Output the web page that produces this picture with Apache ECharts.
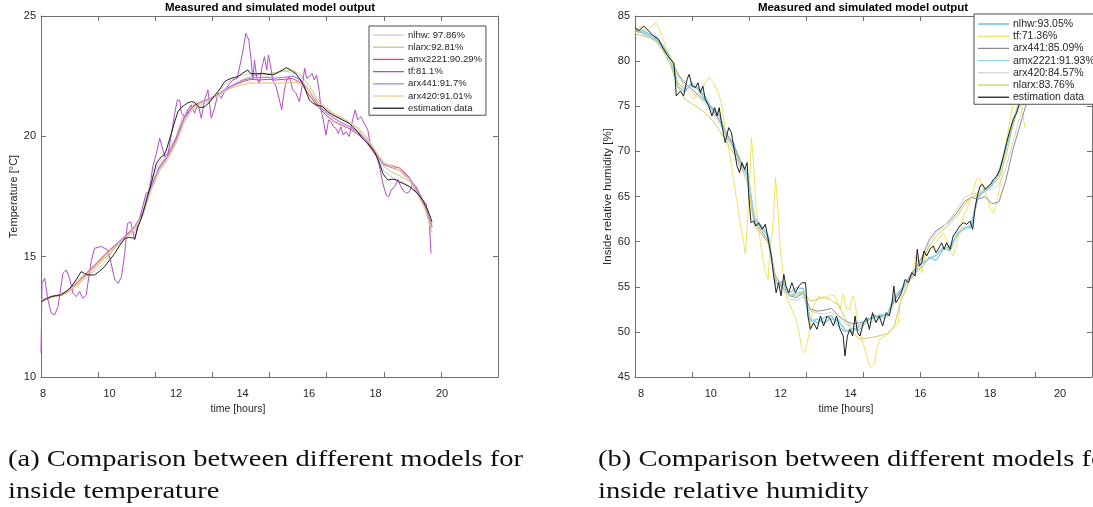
<!DOCTYPE html>
<html><head><meta charset="utf-8">
<script src="https://cdn.jsdelivr.net/npm/echarts@6/dist/echarts.min.js"></script>
<style>html,body{margin:0;padding:0;background:#fff}#c{width:1093px;height:507px}</style>
</head><body><div id="c"></div>
<script>
// ---------- shared tick labels ----------
const hourLabels = [8, 10, 12, 14, 16, 18, 20];
const tempTicks = [10, 15, 20, 25];
const humTicks = [45, 50, 55, 60, 65, 70, 75, 80, 85];

// ---------- (a) inside temperature ----------
const tempHours = [7.95, 8.25, 8.5, 8.75, 9, 9.25, 9.5, 9.75, 10, 10.25, 10.5, 10.75, 11, 11.25, 11.5, 11.75, 12, 12.25, 12.5, 12.75, 13, 13.25, 13.5, 13.75, 14, 14.25, 14.5, 14.75, 15, 15.25, 15.5, 15.75, 16, 16.25, 16.5, 16.75, 17, 17.25, 17.5, 17.75, 18, 18.25, 18.5, 18.75, 19, 19.25, 19.5, 19.7];
const tempNlhw = [13.15, 13.3, 13.4, 13.6, 14.0, 14.25, 14.35, 14.6, 15.05, 15.55, 15.8, 16.0, 16.9, 18.2, 18.9, 19.35, 20.0, 21.0, 21.35, 21.3, 21.45, 21.8, 22.2, 22.4, 22.55, 22.6, 22.58, 22.58, 22.62, 22.72, 22.65, 22.3, 21.7, 21.3, 21.05, 20.85, 20.68, 20.5, 20.2, 19.8, 19.3, 18.55, 18.3, 18.15, 17.95, 17.6, 17.0, 16.35];
const tempNlarx = [13.15, 13.3, 13.38, 13.5, 13.75, 14.08, 14.42, 14.78, 15.12, 15.45, 15.78, 16.15, 16.75, 17.85, 18.65, 19.12, 19.8, 20.7, 21.2, 21.42, 21.55, 21.75, 21.98, 22.18, 22.35, 22.5, 22.55, 22.6, 22.65, 22.72, 22.75, 22.55, 22.1, 21.55, 21.2, 20.95, 20.75, 20.55, 20.3, 19.9, 19.35, 18.75, 18.5, 18.35, 18.15, 17.75, 17.1, 16.3];
const tempAmx2221 = [13.2, 13.35, 13.42, 13.6, 13.89, 14.24, 14.58, 14.93, 15.28, 15.58, 15.9, 16.25, 16.8, 17.91, 18.74, 19.22, 19.92, 20.82, 21.26, 21.44, 21.54, 21.72, 21.95, 22.13, 22.27, 22.37, 22.34, 22.37, 22.34, 22.37, 22.4, 22.23, 21.72, 21.26, 20.9, 20.62, 20.45, 20.3, 20.05, 19.71, 19.22, 18.85, 18.78, 18.67, 18.32, 17.77, 17.01, 16.25];
const tempArx441 = [13.2, 13.33, 13.4, 13.58, 13.86, 14.2, 14.55, 14.9, 15.25, 15.55, 15.86, 16.22, 16.78, 17.88, 18.7, 19.18, 19.85, 20.75, 21.22, 21.42, 21.52, 21.72, 21.95, 22.15, 22.32, 22.42, 22.45, 22.45, 22.42, 22.45, 22.5, 22.35, 21.9, 21.35, 21.0, 20.75, 20.55, 20.38, 20.15, 19.8, 19.28, 18.82, 18.7, 18.58, 18.3, 17.75, 17.0, 16.2];
const tempArx420 = [13.2, 13.32, 13.4, 13.55, 13.82, 14.15, 14.5, 14.85, 15.2, 15.5, 15.82, 16.18, 16.7, 17.75, 18.55, 19.05, 19.7, 20.6, 21.15, 21.38, 21.5, 21.68, 21.9, 22.05, 22.15, 22.22, 22.2, 22.22, 22.2, 22.22, 22.25, 22.2, 21.9, 21.45, 21.15, 20.92, 20.75, 20.55, 20.3, 19.92, 19.4, 18.9, 18.75, 18.55, 18.2, 17.65, 16.95, 16.0];
const tempTf = [[7.94,11.0],[7.97,13.9],[8.05,14.1],[8.15,13.2],[8.25,12.65],[8.35,12.58],[8.45,12.92],[8.6,14.31],[8.7,14.45],[8.8,14.1],[8.9,13.48],[9.0,13.34],[9.1,13.55],[9.2,13.27],[9.3,13.4],[9.35,13.89],[9.45,14.8],[9.55,15.35],[9.75,15.42],[9.95,15.28],[10.05,14.72],[10.16,14.03],[10.26,13.89],[10.36,14.17],[10.46,15.14],[10.54,16.38],[10.64,16.45],[10.76,15.69],[10.86,16.38],[11.0,17.08],[11.1,17.63],[11.2,17.7],[11.3,18.74],[11.41,19.29],[11.51,19.92],[11.58,19.57],[11.66,19.16],[11.76,19.29],[11.86,20.06],[11.96,20.96],[12.04,21.51],[12.11,21.51],[12.16,20.96],[12.26,20.82],[12.36,21.1],[12.46,21.3],[12.56,20.96],[12.66,21.37],[12.76,20.75],[12.86,21.51],[12.96,21.93],[13.06,20.75],[13.16,21.16],[13.26,21.79],[13.36,21.58],[13.46,21.86],[13.61,22.2],[13.71,22.34],[13.84,22.41],[13.9,22.48],[14.0,23.45],[14.1,24.28],[14.19,24.0],[14.26,23.17],[14.31,22.34],[14.36,23.17],[14.43,22.41],[14.51,22.2],[14.59,22.9],[14.66,23.31],[14.73,22.76],[14.78,23.38],[14.84,22.96],[14.91,22.34],[15.01,22.06],[15.11,21.51],[15.18,21.1],[15.26,21.93],[15.33,22.34],[15.41,22.48],[15.51,21.93],[15.61,21.79],[15.71,21.44],[15.79,22.06],[15.87,22.83],[15.93,22.41],[16.01,22.48],[16.09,22.62],[16.16,22.34],[16.23,22.55],[16.31,21.86],[16.36,21.1],[16.43,20.68],[16.51,20.06],[16.59,20.68],[16.66,20.61],[16.74,20.4],[16.81,20.33],[16.88,20.12],[16.96,20.4],[17.03,20.06],[17.11,20.19],[17.21,19.99],[17.31,20.68],[17.39,21.1],[17.46,20.68],[17.56,20.82],[17.66,20.54],[17.77,20.26],[17.84,19.71],[17.92,19.5],[18.02,19.29],[18.12,18.74],[18.22,18.05],[18.32,17.56],[18.4,17.49],[18.47,17.77],[18.57,17.91],[18.67,18.19],[18.74,17.98],[18.82,17.77],[18.92,17.63],[19.02,17.7],[19.12,18.05],[19.22,17.91],[19.32,17.63],[19.42,17.35],[19.52,17.22],[19.62,16.38],[19.67,15.14]];
const tempMeasured = [[7.95,13.13],[8.1,13.25],[8.25,13.34],[8.4,13.38],[8.55,13.41],[8.7,13.55],[8.85,13.75],[9.0,14.05],[9.15,14.38],[9.25,14.3],[9.35,14.24],[9.55,14.24],[9.7,14.4],[9.85,14.58],[10.0,14.85],[10.16,15.14],[10.3,15.45],[10.46,15.76],[10.6,15.8],[10.76,15.76],[10.86,16.25],[10.96,16.6],[11.06,17.08],[11.16,17.6],[11.26,18.05],[11.34,18.5],[11.41,18.88],[11.5,19.05],[11.56,19.16],[11.63,19.2],[11.71,19.43],[11.8,19.85],[11.86,20.12],[11.96,20.6],[12.06,21.03],[12.16,21.2],[12.26,21.3],[12.36,21.4],[12.46,21.44],[12.55,21.42],[12.61,21.37],[12.7,21.2],[12.76,21.16],[12.85,21.22],[12.91,21.3],[13.0,21.4],[13.06,21.51],[13.16,21.7],[13.26,21.86],[13.36,22.05],[13.46,22.27],[13.56,22.35],[13.66,22.41],[13.76,22.45],[13.86,22.48],[14.0,22.62],[14.16,22.76],[14.25,22.6],[14.31,22.55],[14.45,22.6],[14.61,22.62],[14.75,22.58],[14.91,22.55],[15.0,22.6],[15.11,22.69],[15.2,22.75],[15.31,22.85],[15.4,22.8],[15.51,22.69],[15.61,22.6],[15.71,22.41],[15.8,22.2],[15.86,22.06],[15.94,21.75],[16.01,21.51],[16.1,21.4],[16.21,21.3],[16.31,21.28],[16.41,21.23],[16.56,21.03],[16.7,20.9],[16.81,20.82],[17.01,20.68],[17.21,20.54],[17.41,20.26],[17.61,19.92],[17.81,19.64],[17.97,19.36],[18.05,19.1],[18.12,18.88],[18.22,18.46],[18.3,18.3],[18.37,18.19],[18.5,18.22],[18.62,18.19],[18.72,18.1],[18.82,18.05],[19.02,17.91],[19.22,17.7],[19.42,17.35],[19.57,16.94],[19.7,16.45]];

// ---------- (b) inside relative humidity ----------
const humHours = [7.85, 8.05, 8.25, 8.45, 8.65, 8.85, 9.05, 9.25, 9.45, 9.65, 9.85, 10.05, 10.25, 10.45, 10.65, 10.85, 11.05, 11.25, 11.45, 11.65, 11.85, 12.05, 12.25, 12.45, 12.65, 12.85, 13.05, 13.25, 13.45, 13.65, 13.85, 14.05, 14.25, 14.45, 14.65, 14.85, 15.05, 15.25, 15.45, 15.65, 15.85, 16.05, 16.25, 16.45, 16.65, 16.85, 17.05, 17.25, 17.45, 17.65, 17.85, 18.05, 18.25, 18.45, 18.65, 18.85, 19.05];
const humNlhw = [83.5, 83.4, 83.0, 82.7, 81.6, 80.4, 77.6, 76.9, 77.3, 77.0, 76.0, 74.6, 74.0, 71.8, 71.0, 68.6, 67.8, 62.4, 61.8, 60.4, 55.6, 55.4, 54.3, 54.9, 54.8, 51.4, 51.0, 51.6, 51.8, 50.6, 50.0, 50.4, 50.2, 51.1, 51.9, 51.6, 52.0, 53.5, 54.5, 55.8, 56.5, 57.2, 58.3, 57.9, 59.1, 59.5, 60.6, 61.6, 61.5, 64.8, 65.8, 66.4, 67.5, 70.2, 73.0, 75.5, 78.2];
const humArx441 = [83.3, 83.1, 82.8, 82.3, 81.4, 80.1, 78.6, 77.6, 76.9, 76.2, 75.5, 74.6, 73.4, 72.0, 70.6, 69.0, 67.3, 62.2, 61.2, 60.0, 56.2, 55.0, 54.0, 53.8, 54.3, 52.5, 52.3, 52.4, 52.6, 51.8, 51.2, 50.9, 51.0, 51.2, 51.6, 51.7, 51.9, 53.4, 54.6, 55.9, 57.0, 58.3, 60.2, 61.2, 61.7, 62.3, 63.2, 64.4, 64.9, 64.7, 65.0, 64.2, 64.4, 66.8, 70.2, 72.8, 75.5];
const humAmx2221 = [83.6, 83.2, 82.8, 82.4, 81.2, 80.0, 77.2, 76.6, 77.6, 76.8, 75.6, 74.8, 73.9, 71.6, 70.4, 68.3, 67.4, 62.6, 61.6, 60.6, 55.3, 55.6, 54.0, 54.3, 54.4, 51.2, 51.4, 51.0, 51.5, 51.2, 50.2, 50.0, 50.6, 51.4, 51.5, 51.9, 51.8, 53.9, 54.7, 55.6, 56.8, 57.6, 58.1, 58.5, 59.3, 59.0, 60.9, 61.4, 61.8, 65.0, 65.6, 66.2, 67.7, 70.4, 73.2, 75.8, 78.4];
const humArx420 = [83.4, 83.0, 82.6, 82.2, 81.3, 80.0, 78.4, 77.4, 76.6, 75.9, 75.2, 74.3, 73.1, 71.7, 70.2, 68.6, 67.0, 61.6, 60.8, 59.8, 55.9, 54.7, 53.6, 53.5, 53.9, 52.3, 52.1, 52.0, 52.2, 51.4, 50.9, 50.6, 50.7, 50.9, 51.2, 51.4, 51.6, 53.0, 54.3, 55.6, 56.7, 58.0, 60.0, 61.0, 61.6, 62.5, 63.6, 64.8, 65.3, 65.4, 65.9, 65.8, 66.3, 68.2, 71.0, 73.8, 76.5];
const humNlarx = [83.0, 82.8, 82.6, 82.1, 81.0, 79.5, 77.2, 75.8, 75.3, 74.8, 74.2, 73.4, 72.3, 71.0, 69.8, 68.3, 66.6, 61.8, 60.9, 59.7, 55.8, 54.9, 54.1, 54.0, 54.4, 53.4, 53.6, 53.9, 53.5, 53.0, 51.5, 50.0, 49.2, 49.3, 49.4, 49.6, 49.8, 50.6, 53.6, 55.4, 56.5, 57.8, 59.5, 60.6, 61.3, 62.0, 62.8, 64.0, 64.9, 65.2, 65.8, 66.4, 67.0, 69.4, 72.8, 75.6, 78.0];
const humTf = [[7.84,83.15],[7.98,83.89],[8.17,83.34],[8.31,83.89],[8.43,84.26],[8.55,83.34],[8.7,81.68],[8.89,80.2],[9.08,78.35],[9.22,77.24],[9.37,76.5],[9.51,75.77],[9.65,76.5],[9.79,77.24],[9.94,78.17],[10.08,77.61],[10.21,76.5],[10.3,75.4],[10.4,72.81],[10.51,70.23],[10.61,68.01],[10.72,65.06],[10.84,62.1],[10.94,59.88],[10.99,58.59],[11.06,62.84],[11.13,68.38],[11.16,71.52],[11.21,69.49],[11.29,63.95],[11.42,59.88],[11.56,56.56],[11.64,55.82],[11.7,59.52],[11.75,60.62],[11.8,63.21],[11.85,67.09],[11.91,64.32],[11.99,59.15],[12.09,55.82],[12.18,53.61],[12.32,52.5],[12.47,51.02],[12.61,48.07],[12.69,47.7],[12.8,49.54],[12.94,52.87],[13.09,53.98],[13.28,53.61],[13.41,54.16],[13.55,53.98],[13.7,52.5],[13.79,54.16],[13.89,52.5],[13.98,52.5],[14.06,53.98],[14.13,53.24],[14.22,50.65],[14.32,49.17],[14.41,48.07],[14.51,46.59],[14.58,46.03],[14.67,46.4],[14.75,48.07],[14.84,49.17],[14.99,49.54],[15.13,49.91],[15.27,50.65],[15.37,51.02],[15.42,53.24],[15.51,53.98],[15.61,54.71],[15.7,55.82],[15.8,56.93],[15.87,58.41],[15.95,57.67],[16.04,56.56],[16.13,58.04],[16.23,59.15],[16.37,59.52],[16.51,60.25],[16.66,60.99],[16.75,60.25],[16.85,58.78],[16.94,58.41],[17.04,59.88],[17.15,61.36],[17.23,62.84],[17.33,63.58],[17.42,64.5],[17.52,65.79],[17.61,66.9],[17.69,67.09],[17.78,66.16],[17.9,65.06],[17.99,63.76],[18.09,63.21],[18.19,64.32],[18.28,66.16],[18.38,68.75],[18.47,71.34],[18.57,73.55],[18.66,75.4],[18.72,76.3],[18.8,76.0],[18.88,74.9],[19.0,72.6]];
const humMeasured = [[7.84,83.71],[7.93,83.34],[8.08,83.89],[8.22,83.34],[8.36,82.78],[8.5,82.41],[8.65,81.31],[8.74,80.75],[8.84,80.2],[8.94,79.83],[8.98,78.0],[9.01,76.14],[9.13,76.69],[9.22,76.14],[9.32,77.98],[9.38,78.54],[9.46,77.24],[9.56,77.06],[9.63,77.61],[9.7,76.5],[9.77,77.24],[9.84,75.77],[9.94,75.03],[10.03,73.92],[10.11,74.84],[10.18,73.92],[10.24,74.84],[10.32,72.81],[10.41,70.97],[10.51,72.63],[10.59,72.07],[10.65,70.6],[10.75,68.38],[10.82,67.64],[10.89,68.75],[10.97,68.01],[11.04,68.75],[11.08,65.42],[11.15,62.1],[11.23,62.29],[11.29,61.73],[11.37,62.1],[11.47,61.36],[11.56,61.92],[11.66,59.88],[11.73,58.41],[11.8,56.19],[11.87,54.34],[11.94,55.45],[12.01,53.98],[12.09,56.38],[12.15,55.08],[12.23,54.34],[12.32,55.45],[12.42,54.34],[12.52,55.08],[12.61,55.45],[12.71,55.45],[12.78,51.76],[12.85,50.28],[12.94,51.02],[13.04,50.28],[13.14,51.76],[13.23,50.65],[13.33,51.76],[13.41,51.5],[13.51,50.65],[13.6,51.76],[13.7,50.28],[13.79,49.54],[13.84,47.33],[13.91,49.54],[13.98,50.28],[14.06,49.54],[14.13,51.76],[14.2,49.91],[14.27,49.54],[14.37,51.02],[14.46,51.57],[14.54,50.28],[14.63,52.13],[14.73,51.02],[14.82,51.76],[14.92,50.65],[15.02,52.13],[15.11,51.76],[15.19,53.24],[15.24,55.08],[15.3,53.24],[15.37,53.61],[15.46,54.34],[15.56,55.82],[15.66,55.45],[15.75,56.56],[15.85,56.19],[15.91,59.15],[15.97,57.3],[16.04,57.67],[16.1,58.96],[16.18,58.41],[16.28,59.15],[16.37,59.52],[16.45,58.78],[16.51,59.15],[16.61,59.88],[16.68,59.15],[16.75,59.88],[16.85,59.15],[16.94,60.62],[17.04,61.18],[17.13,61.73],[17.23,62.1],[17.33,61.92],[17.42,62.29],[17.5,61.36],[17.56,63.58],[17.63,65.06],[17.71,66.16],[17.78,66.35],[17.86,65.79],[17.94,66.16],[18.01,66.35],[18.09,66.9],[18.19,67.27],[18.28,68.01],[18.38,69.49],[18.47,70.97],[18.57,72.44],[18.66,73.55],[18.76,74.29],[18.85,75.4],[18.95,77.0],[19.05,78.5]];

// ---------- build ----------
const FONT = 'Liberation Sans, Arial, Helvetica, sans-serif';
const SERIF = '"Liberation Serif", "DejaVu Serif", serif';
const AXC = '#6f6f6f';
const TXT = '#262626';
const pair = (xs, ys) => xs.map((x, i) => [x, ys[i]]);

function line(name, data, color, xi, yi, width) {
  return { name, type: 'line', data, xAxisIndex: xi, yAxisIndex: yi, showSymbol: false, symbol: 'none',
    lineStyle: { color, width: width || 1 }, itemStyle: { color }, emphasis: { disabled: true }, animation: false, clip: true };
}
function dataX(grid, min, max) {
  return { gridIndex: grid, type: 'value', min, max, position: 'bottom',
    axisLine: { show: true, onZero: false, lineStyle: { color: AXC, width: 1 } },
    axisTick: { show: false }, splitLine: { show: false },
    axisLabel: { customValues: hourLabels, color: TXT, fontSize: 11, fontFamily: FONT, margin: 11 } };
}
function tickX(grid, pos) {
  return { gridIndex: grid, type: 'value', min: 0, max: 8, interval: 1, position: pos,
    axisLine: { show: pos === 'top', onZero: false, lineStyle: { color: AXC, width: 1 } },
    axisTick: { show: true, inside: true, length: 5, lineStyle: { color: AXC } },
    axisLabel: { show: false }, splitLine: { show: false } };
}
function yAx(grid, pos, min, max, name, gap, nameSize) {
  return { gridIndex: grid, type: 'value', min, max, interval: 5, position: pos,
    name: pos === 'left' ? name : '', nameLocation: 'middle', nameGap: gap,
    nameTextStyle: { color: TXT, fontSize: nameSize || 11, fontFamily: FONT },
    axisLine: { show: true, onZero: false, lineStyle: { color: AXC, width: 1 } },
    axisTick: { show: true, inside: true, length: 5, lineStyle: { color: AXC } },
    axisLabel: { show: pos === 'left', color: TXT, fontSize: 11, fontFamily: FONT, margin: 5 },
    splitLine: { show: false } };
}
function legend(left, top, names, fs, pad) {
  return { show: true, orient: 'vertical', left, top, data: names, icon: 'rect', itemWidth: 31, itemHeight: 1.3,
    itemGap: 0.15, selectedMode: false, backgroundColor: '#fff', borderColor: '#4d4d4d', borderWidth: 1, borderRadius: 0,
    padding: pad, z: 10,
    textStyle: { color: TXT, fontSize: fs, lineHeight: 12.05, fontFamily: FONT, padding: [0, 0, 0, -1] } };
}

const leftSeries = [
  line('nlhw: 97.86%', pair(tempHours, tempNlhw), '#cdcdcd', 0, 0),
  line('nlarx:92.81%', pair(tempHours, tempNlarx), '#c9c67a', 0, 0),
  line('amx2221:90.29%', pair(tempHours, tempAmx2221), '#e8434f', 0, 0),
  line('tf:81.1%', tempTf, '#b24cc8', 0, 0),
  line('arx441:91.7%', pair(tempHours, tempArx441), '#a68cf2', 0, 0, 1.3),
  line('arx420:91.01%', pair(tempHours, tempArx420), '#f0c892', 0, 0, 1.3),
  line('estimation data', tempMeasured, '#1f1f1f', 0, 0)
];
const rightSeries = [
  line('nlhw:93.05%', pair(humHours, humNlhw), '#5ab5d6', 3, 2),
  line('tf:71.36%', humTf, '#f3e35c', 3, 2),
  line('arx441:85.09%', pair(humHours, humArx441), '#8c8c8c', 3, 2),
  line('amx2221:91.93%', pair(humHours, humAmx2221), '#92d4e3', 3, 2, 1.8),
  line('arx420:84.57%', pair(humHours, humArx420), '#d3d3d3', 3, 2),
  line('nlarx:83.76%', pair(humHours, humNlarx), '#cfcb6c', 3, 2),
  line('estimation data', humMeasured, '#1f1f1f', 3, 2)
];

const titleStyle = { fontSize: 11.5, fontWeight: 'bold', color: '#000', fontFamily: FONT };
const nameStyle = { fontSize: 10.5, fontWeight: 'normal', color: TXT, fontFamily: FONT };

const option = {
  backgroundColor: '#fff',
  animation: false,
  grid: [
    { left: 41, top: 16, width: 457, height: 361, containLabel: false, outerBoundsMode: 'none' },
    { left: 635, top: 16, width: 457, height: 361, containLabel: false, outerBoundsMode: 'none' }
  ],
  xAxis: [
    dataX(0, 7.94, 21.684), tickX(0, 'bottom'), tickX(0, 'top'),
    dataX(1, 7.828, 20.915), tickX(1, 'bottom'), tickX(1, 'top')
  ],
  yAxis: [
    yAx(0, 'left', 10, 25, 'Temperature [°C]', 20, 11), yAx(0, 'right', 10, 25, '', 0),
    yAx(1, 'left', 45, 85, 'Inside relative humidity [%]', 19, 11.5), yAx(1, 'right', 45, 85, '', 0)
  ],
  legend: [
    legend(369, 26, leftSeries.map(s => s.name), 9.5, [3, 4, 1, 4]),
    legend(974, 14, rightSeries.map(s => s.name), 10.5, [4, 4, 1, 4])
  ],
  title: [
    { text: 'Measured and simulated model output', left: 270, top: 2, textAlign: 'center', padding: 0, textStyle: titleStyle },
    { text: 'Measured and simulated model output', left: 863, top: 2, textAlign: 'center', padding: 0, textStyle: titleStyle },
    { text: 'time [hours]', left: 238, top: 404, textAlign: 'center', padding: 0, textStyle: nameStyle },
    { text: 'time [hours]', left: 846, top: 404, textAlign: 'center', padding: 0, textStyle: nameStyle }
  ],
  graphic: [
    { type: 'text', x: 8, y: 444, scaleX: 1.24, scaleY: 1, silent: true,
      style: { text: '(a) Comparison between different models for\ninside temperature', font: '23px ' + SERIF, fill: '#111', lineHeight: 32 } },
    { type: 'text', x: 598, y: 444, scaleX: 1.24, scaleY: 1, silent: true,
      style: { text: '(b) Comparison between different models for\ninside relative humidity', font: '23px ' + SERIF, fill: '#111', lineHeight: 32 } }
  ],
  series: leftSeries.concat(rightSeries)
};

const chart = echarts.init(document.getElementById('c'), null, { renderer: 'canvas', width: 1093, height: 507 });
chart.setOption(option);
</script>
</body></html>
